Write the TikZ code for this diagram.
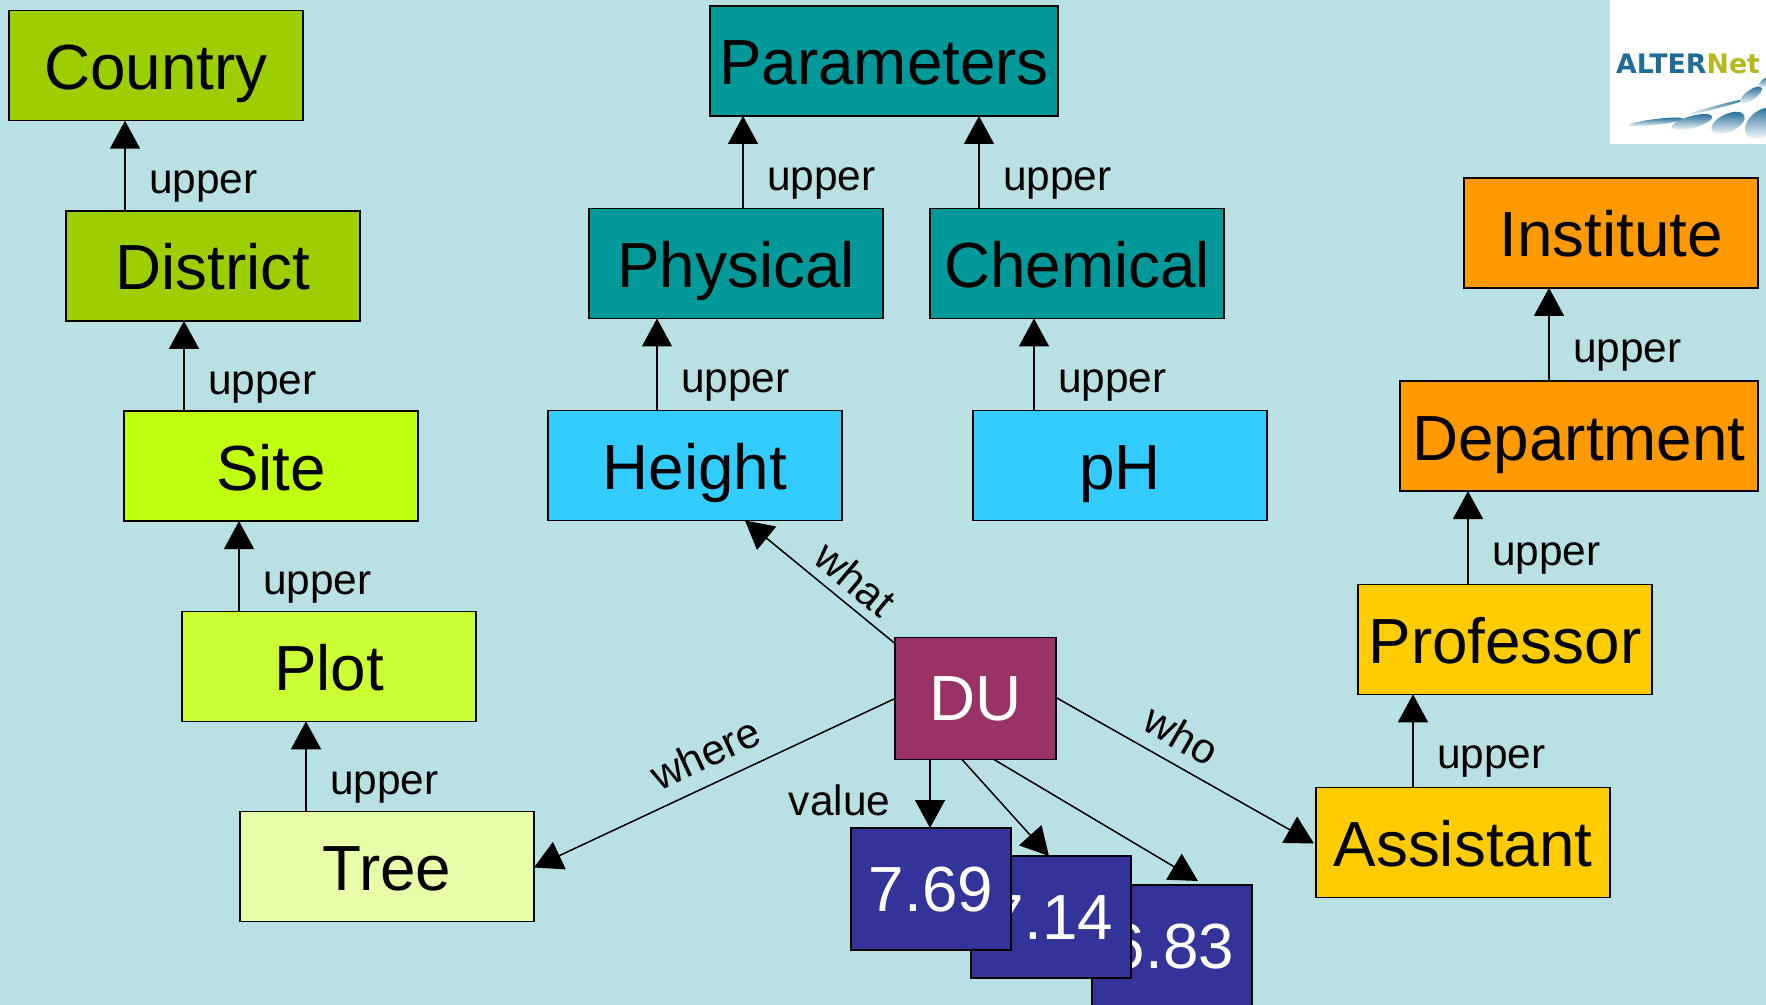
\documentclass[tikz,border=0pt]{standalone}
\usepackage{fontspec}
\setmainfont{Liberation Sans}
\newfontfamily\logofont{DejaVu Sans}
\usetikzlibrary{positioning,arrows.meta,calc}
\definecolor{bgcol}{HTML}{B9E0E3}
\definecolor{countrycol}{HTML}{9CCE00}
\definecolor{sitecol}{HTML}{BFFF0F}
\definecolor{plotcol}{HTML}{CCFF33}
\definecolor{treecol}{HTML}{E6FFA8}
\definecolor{tealcol}{HTML}{009999}
\definecolor{skycol}{HTML}{33CCFF}
\definecolor{orangecol}{HTML}{FF9900}
\definecolor{goldcol}{HTML}{FFCC00}
\definecolor{ducol}{HTML}{993366}
\definecolor{valcol}{HTML}{333399}
\definecolor{logoblue}{HTML}{1F6C96}
\definecolor{logoolive}{HTML}{B4B81E}

\begin{document}
\begin{tikzpicture}[x=0.5pt,y=-0.5pt,every node/.style={outer sep=0pt},
        box/.style={draw,line width=0.75pt,minimum width=147pt,minimum height=55pt,inner sep=0pt,text height=32pt,text depth=8pt,font=\fontsize{31.9}{36}\selectfont},
        valbox/.style={box,fill=valcol,text=white,minimum width=80pt,minimum height=61pt,text height=30.4pt},
        link/.style={line width=0.75pt,-{Triangle[width=15pt,length=14pt]}},
        lab/.style={font=\fontsize{21.2}{25}\selectfont}]

        % Background
        \path[use as bounding box,fill=bgcol] (0,0) rectangle (1766,1005);

        % Logo
        \fill[white] (1610,0) rectangle (1766,144);
        \begin{scope}
        \clip (1610,0) rectangle (1766,144);
        \foreach \cx/\cy/\rx/\ry/\rot in {1656/122/27/3/7,1692/122/21/6/15,1728/123/18/9/25,1763/123/20/13/35,1717/107/30/1.5/15,1751/95/13/5/35,1766/82/8/4/35}
          \shade[top color=logoblue,bottom color=white,rotate around={\rot:(\cx,\cy)}] (\cx,\cy) ellipse ({\rx} and {\ry});
        \end{scope}
        \node[anchor=base west,inner sep=0pt,font=\logofont\bfseries\fontsize{13.4}{15}\selectfont] (logotext) at (1616,74) {\textcolor{logoblue}{ALTER}\textcolor{logoolive}{Net}};

        % Where
        \node[box,fill=treecol] (tree) at (387,866.5) {Tree};
        \node[box,fill=plotcol,above=45.1pt of tree,xshift=-29pt] (plot) {Plot};
        \node[box,fill=sitecol,above=45.1pt of plot,xshift=-29pt] (site) {Site};
        \node[box,fill=countrycol,above=45.1pt of site,xshift=-29pt] (district) {District};
        \node[box,fill=countrycol,above=45.1pt of district,xshift=-28.5pt] (country) {Country};

        % What
        \node[box,fill=skycol] (height) at (695,465.5) {Height};
        \node[box,fill=tealcol,above=46pt of height,xshift=20.5pt] (physical) {Physical};
        \node[box,fill=tealcol,right=23.5pt of physical] (chemical) {Chemical};
        \node[box,fill=skycol,below=46pt of chemical,xshift=21.5pt] (ph) {pH};
        \node[box,fill=tealcol,minimum width=174pt,above=46.25pt of physical,xshift=74pt] (parameters) {Parameters};

        % Who
        \node[box,fill=goldcol] (assistant) at (1463,842.5) {Assistant};
        \node[box,fill=goldcol,above=46.6pt of assistant,xshift=21pt] (professor) {Professor};
        \node[box,fill=orangecol,minimum width=179pt,above=46.6pt of professor,xshift=37pt] (department) {Department};
        \node[box,fill=orangecol,above=46.6pt of department,xshift=16pt] (institute) {Institute};

        % Data unit and values
        \node[box,fill=ducol,text=white,minimum width=80.5pt,minimum height=61pt,text height=30.4pt] (du) at (975.5,698.5) {DU};
        \node[valbox] (v683) at (1172,946) {6.83};
        \node[valbox] (v714) at (1051,917) {7.14};
        \node[valbox] (v769) at (931,889) {7.69};

        % Upper links
        \foreach \low/\up/\off in {tree/plot/33,plot/site/28.5,site/district/30,district/country/29.5,
            height/physical/54.5,physical/parameters/77,chemical/parameters/24.5,ph/chemical/30.5,
            assistant/professor/48.5,professor/department/55,department/institute/74.5}
          \draw[link] ([xshift=\off pt]\low.north west) -- ([xshift=\off pt]\low.north west |- \up.south)
            node[midway,right=8.75pt,yshift=-10.5pt,lab]{upper};

        % Links of the data unit
        \draw[link] ([yshift=-3pt]du.north west) -- ([xshift=-48.5pt]height.south east)
            node[midway,lab,rotate=-40,xshift=12.5pt,yshift=12.7pt]{what};
        \draw[link] ([yshift=-30.5pt]du.north west) -- ([yshift=-28pt]tree.north east)
            node[pos=0.49,lab,rotate=25,yshift=15.5pt]{where};
        \draw[link] ([yshift=-30pt]du.north east) -- ([xshift=-1pt,yshift=-28pt]assistant.north west)
            node[pos=0.43,lab,rotate=-30,yshift=14.5pt]{who};
        \draw[link] ([xshift=-22.75pt]du.south) -- ([xshift=-22.75pt]du.south |- v769.north)
            node[midway,lab,left=16.5pt,yshift=-3.5pt]{value};
        \draw[link] ([xshift=-6.75pt]du.south) -- ([xshift=-1pt]v714.north);
        \draw[link] ([xshift=9.25pt]du.south) -- ([xshift=13pt,yshift=2pt]v683.north);

    \end{tikzpicture}
\end{document}
